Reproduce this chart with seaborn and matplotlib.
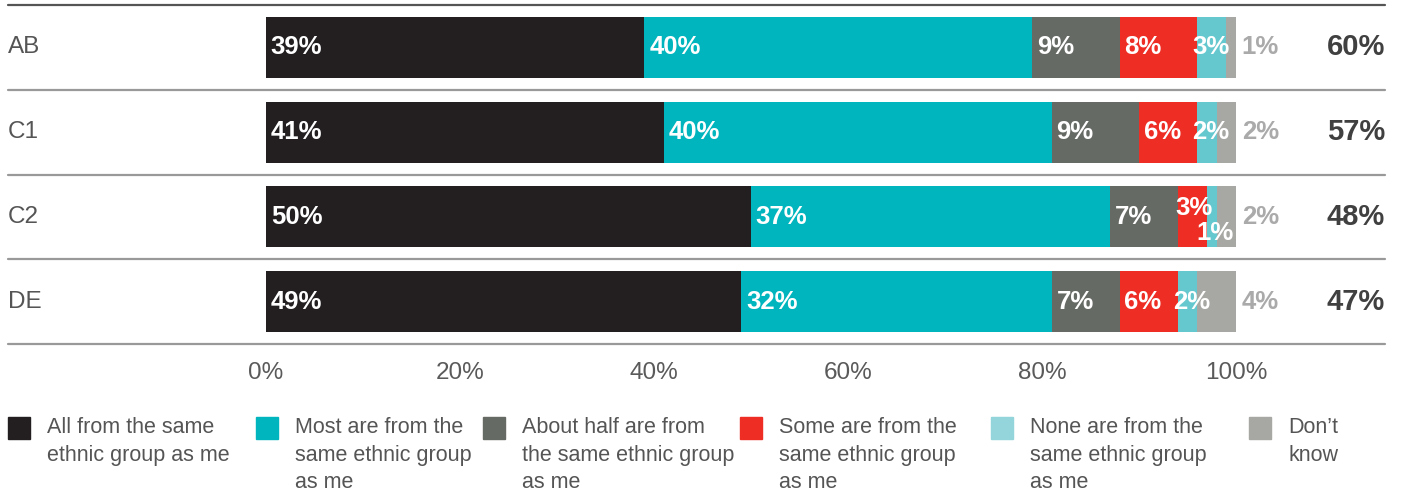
import matplotlib
matplotlib.use("Agg")
import matplotlib.pyplot as plt
import seaborn as sns
import numpy as np
import pandas as pd
from matplotlib.patches import Rectangle
import matplotlib.transforms as mtransforms

# ---------------- data ----------------
groups = ["AB", "C1", "C2", "DE"]
series = ["All from the same\nethnic group as me",
          "Most are from the\nsame ethnic group\nas me",
          "About half are from\nthe same ethnic group\nas me",
          "Some are from the\nsame ethnic group\nas me",
          "None are from the\nsame ethnic group\nas me",
          "Don\u2019t\nknow"]
all_same   = [39, 41, 50, 49]
most_same  = [40, 40, 37, 32]
about_half = [9, 9, 7, 7]
some_same  = [8, 6, 3, 6]
none_same  = [3, 2, 1, 2]
dont_know  = [1, 2, 2, 4]
totals     = ["60%", "57%", "48%", "47%"]
tick_vals  = [0, 20, 40, 60, 80, 100]

values = [all_same, most_same, about_half, some_same, none_same, dont_know]
bar_colors = ["#231f20", "#00b5bd", "#666a64", "#ee2d24", "#66c8cf", "#a7a8a3"]
legend_colors = ["#231f20", "#00b5bd", "#666a64", "#ee2d24", "#93d5da", "#a7a8a3"]

sns.set_theme(style="white")
plt.rcParams["font.family"] = ["Liberation Sans", "DejaVu Sans"]

W, H = 1402, 493
fig = plt.figure(figsize=(W / 100, H / 100), dpi=100)
ax_l, ax_r, ax_t, ax_b = 8, 1385, 5, 344
ax = fig.add_axes([ax_l / W, 1 - ax_b / H, (ax_r - ax_l) / W, (ax_b - ax_t) / H])

px_per = (1236 - 266) / 100.0
xmin = -(266 - ax_l) / px_per
xmax = (ax_r - 266) / px_per

arr = np.array(values, dtype=float)
cum = np.cumsum(arr, axis=0)
starts = cum - arr

df = pd.DataFrame({"group": groups})
for i in range(len(series) - 1, -1, -1):
    df["v"] = cum[i]
    sns.barplot(data=df, x="v", y="group", orient="h", color=bar_colors[i],
                width=0.72, ax=ax, saturation=1, edgecolor="none", linewidth=0)

ax.set_xlim(xmin, xmax)
ax.set_ylim(3.5, -0.5)
for s in ax.spines.values():
    s.set_visible(False)
ax.set_ylabel("")
ax.set_xlabel("")
ax.set_yticks([])
ax.set_xticks(tick_vals)
ax.set_xticklabels([f"{t}%" for t in tick_vals], fontsize=17.5, color="#5a5a5a")
ax.tick_params(axis="x", length=0, pad=13)
ax.grid(False)

# separators
ax.axhline(-0.5, color="#555555", lw=1.6, clip_on=False)
for yv in [0.5, 1.5, 2.5, 3.5]:
    ax.axhline(yv, color="#999999", lw=1.6, clip_on=False)

trans_ax_x = mtransforms.blended_transform_factory(ax.transAxes, ax.transData)

lab_fs = 18.5
for r, g in enumerate(groups):
    ax.text(0, r, g, transform=trans_ax_x, ha="left", va="center",
            fontsize=17.5, color="#555555")
    ax.text(1, r, totals[r], transform=trans_ax_x, ha="right", va="center",
            fontsize=21, color="#404040", fontweight="bold")
    for i in range(len(series)):
        v = arr[i, r]
        lab = f"{int(v)}%"
        if i == len(series) - 1:
            ax.text(cum[i, r] + 0.6, r, lab, ha="left", va="center",
                    fontsize=lab_fs, color="#aaaaaa", fontweight="bold")
            continue
        dy = 0.0
        x0 = starts[i, r] + 0.5
        if r == 2 and i == 3:
            dy = -0.1
            x0 = starts[i, r] - 0.3
        elif r == 2 and i == 4:
            dy = 0.19
            x0 = starts[i, r] - 1.1
        elif i == 4:
            x0 = starts[i, r] - 0.5
        ax.text(x0, r + dy, lab, ha="left", va="center",
                fontsize=lab_fs, color="white", fontweight="bold")

# legend
col_x = [8, 256, 483, 740, 991, 1249]
for i, lab in enumerate(series):
    x = col_x[i]
    fig.patches.append(Rectangle((x / W, 1 - 439 / H), 22 / W, 22 / H,
                                 transform=fig.transFigure, color=legend_colors[i]))
    fig.text((x + 39) / W, 1 - 417 / H, lab, ha="left", va="top",
             fontsize=15.5, color="#555555", linespacing=1.42)

fig.savefig("out.png", dpi=100)
